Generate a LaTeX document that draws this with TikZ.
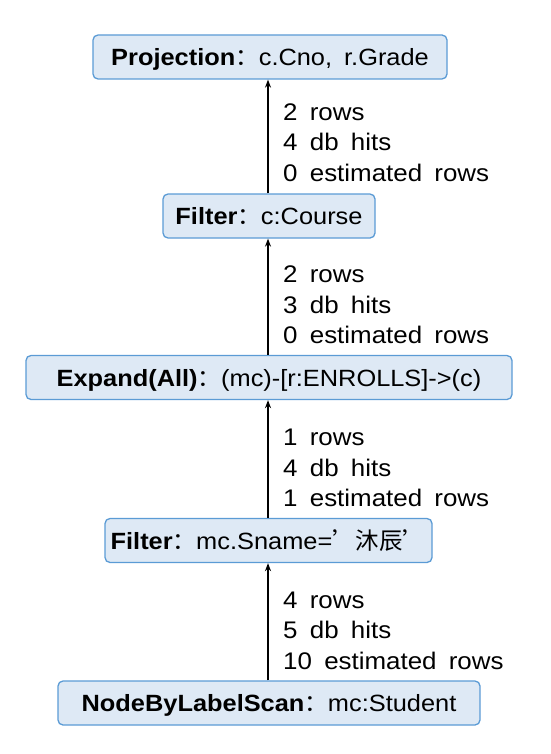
\documentclass[tikz,border=0pt]{standalone}
\usepackage{fontspec}
\setmainfont{Liberation Sans}[FakeStretch=1.08, WordSpace={1.7,0.5,0.2}]
\newfontfamily\cjk{Noto Sans CJK SC}
\usetikzlibrary{arrows.meta}
\definecolor{boxfill}{HTML}{DEE9F5}
\definecolor{boxdraw}{HTML}{5B9BD5}
\tikzset{
  opbox/.style={draw=boxdraw, line width=1.3pt, fill=boxfill, rounded corners=5pt,
    minimum height=44pt, inner sep=0pt, text height=17pt, text depth=0pt,
    font=\fontsize{23.5}{26}\selectfont},
  flow/.style={line width=2pt, -{Stealth[length=8pt,width=6pt]}},
  stats/.style={anchor=west, align=left, inner sep=0pt, font=\fontsize{24}{30.5}\selectfont}
}
\begin{document}
\begin{tikzpicture}[x=1pt,y=-1pt]
\useasboundingbox (0,0) rectangle (550,754);
\node[opbox, minimum width=354pt] (proj) at (270,57) {\textbf{Projection}{\cjk ：}c.Cno,\ r.Grade};
\node[opbox, minimum width=212pt] (f1) at (269,216) {\textbf{Filter}{\cjk ：}c:Course};
\node[opbox, minimum width=486pt] (exp) at (269,377.5) {\textbf{Expand(All)}{\cjk ：}(mc)-[r:ENROLLS]->(c)};
\node[opbox, minimum width=327pt] (f2) at (268.5,540.5) {\textbf{Filter}{\cjk ：}mc.Sname={\cjk ’沐辰’}};
\node[opbox, minimum width=422pt] (scan) at (269,703) {\textbf{NodeByLabelScan}{\cjk ：}mc:Student};
\draw[flow] (scan.north -| 268,0) -- (f2.south -| 268,0);
\draw[flow] (f2.north -| 268,0) -- (exp.south -| 268,0);
\draw[flow] (exp.north -| 268,0) -- (f1.south -| 268,0);
\draw[flow] (f1.north -| 268,0) -- (proj.south -| 268,0);
\node[stats] (s1) at (283,142.5) {2 rows\\4 db hits\\0 estimated rows};
\node[stats] (s2) at (283,305) {2 rows\\3 db hits\\0 estimated rows};
\node[stats] (s3) at (283,468) {1 rows\\4 db hits\\1 estimated rows};
\node[stats] (s4) at (283,630.5) {4 rows\\5 db hits\\10 estimated rows};
\end{tikzpicture}
\end{document}
